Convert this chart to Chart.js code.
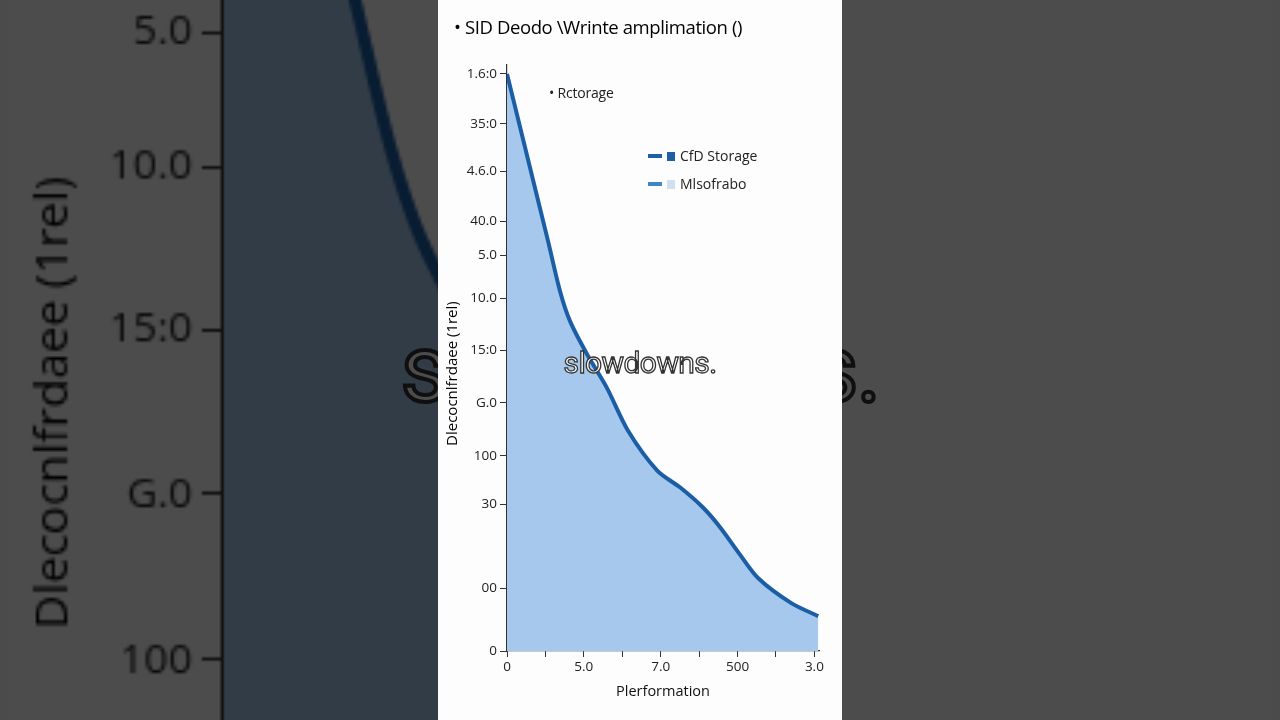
<!DOCTYPE html>
<html>
<head>
<meta charset="utf-8">
<script src="https://cdn.jsdelivr.net/npm/chart.js@4.4.1/dist/chart.umd.min.js"></script>
<style>
    html, body {
        margin: 0;
        padding: 0;
        width: 1280px;
        height: 720px;
        overflow: hidden;
        background: #4b4b4b;
        font-family: "Open Sans", sans-serif;
    }
    .frame {
        position: absolute;
        left: 438px;
        top: 0;
        width: 404px;
        height: 720px;
        background: #fdfdfd;
        overflow: hidden;
    }
    .frame .plot {
        position: absolute;
        left: 0;
        top: 0;
        width: 404px;
        height: 720px;
    }
    #backdrop {
        transform: scale(3.13);
        transform-origin: 50% 50%;
        filter: brightness(0.3);
    }
    .title {
        position: absolute;
        left: 16px;
        top: 14px;
        font-size: 18.5px;
        color: #000;
        white-space: nowrap;
        letter-spacing: -0.4px;
    }
    .note {
        position: absolute;
        left: 111px;
        top: 83px;
        font-size: 14px;
        color: #222;
        white-space: nowrap;
        letter-spacing: -0.2px;
    }
    .key {
        position: absolute;
        left: 210px;
        font-size: 14px;
        color: #222;
        white-space: nowrap;
        height: 18px;
        line-height: 18px;
    }
    .key .seg {
        position: absolute;
        left: 0;
        top: 7px;
        width: 14px;
        height: 4px;
    }
    .key .box {
        position: absolute;
        left: 19px;
        top: 5px;
        width: 8px;
        height: 9px;
    }
    .key .txt {
        position: absolute;
        left: 32px;
        top: 0;
    }
    .caption {
        position: absolute;
        left: 0;
        width: 404px;
        top: 345px;
        text-align: center;
        font-family: Roboto, sans-serif;
        font-size: 30px;
        line-height: 36px;
        color: #fff;
        -webkit-text-stroke: 1.3px #333;
        letter-spacing: -0.6px;
    }
</style>
</head>
<body>
<div class="frame" id="backdrop"></div>
<div class="frame" id="front"></div>
<script>
    // values
    const curveX = [0, 1.07, 1.38, 1.64, 2.08, 2.60, 3.15, 3.91, 4.51, 5.10, 5.55, 6.04, 6.54, 7.40, 8.10];
    const curveY = [579, 411, 361, 331, 298, 264, 221, 181, 164, 144, 124, 98, 73, 48, 35];

    const xTickValues = [0, 1, 2, 3, 4, 5, 6, 7, 8];
    const xTickLabels = ['0', '', '5.0', '', '7.0', '', '500', '', '3.0'];

    const yTickValues = [0, 63, 147, 196, 249, 302, 354, 397, 431, 481, 529, 579];
    const yTickLabels = ['0', '00', '30', '100', 'G.0', '15:0', '10.0', '5.0', '40.0', '4.6.0', '35:0', '1.6:0'];

    const chartTitle = '\u2022 SID Deodo \\Wrinte amplimation ()';
    const noteText = '\u2022 Rctorage';
    const legendItems = [
        { label: 'CfD Storage', line: '#1f5fa6', box: '#1f5fa6', top: 147 },
        { label: 'Mlsofrabo', line: '#3f86c6', box: '#cfe0f1', top: 175 }
    ];
    const xTitle = 'Plerformation';
    const yTitle = 'Dlecocnlfrdaee (1rel)        ';
    const captionText = 'slowdowns.';

    const lineColor = '#1b5ea6';
    const fillColor = '#a5c8ec';
    const axisColor = '#333';

    function buildFrame(frame) {
        const canvasBox = document.createElement('div');
        canvasBox.className = 'plot';
        const canvas = document.createElement('canvas');
        canvasBox.appendChild(canvas);
        frame.appendChild(canvasBox);

        const title = document.createElement('div');
        title.className = 'title';
        title.textContent = chartTitle;
        frame.appendChild(title);

        const note = document.createElement('div');
        note.className = 'note';
        note.textContent = noteText;
        frame.appendChild(note);

        legendItems.forEach(item => {
            const key = document.createElement('div');
            key.className = 'key';
            key.style.top = item.top + 'px';
            key.innerHTML = '<span class="seg"></span><span class="box"></span><span class="txt"></span>';
            key.querySelector('.seg').style.background = item.line;
            key.querySelector('.box').style.background = item.box;
            key.querySelector('.txt').textContent = item.label;
            frame.appendChild(key);
        });

        const caption = document.createElement('div');
        caption.className = 'caption';
        caption.textContent = captionText;
        frame.appendChild(caption);

        const points = curveX.map((x, i) => ({ x: x, y: curveY[i] }));

        new Chart(canvas, {
            type: 'line',
            data: {
                datasets: [{
                    data: points,
                    borderColor: lineColor,
                    borderWidth: 4,
                    backgroundColor: fillColor,
                    fill: 'origin',
                    pointRadius: 0,
                    tension: 0.3
                }]
            },
            options: {
                responsive: true,
                maintainAspectRatio: false,
                animation: false,
                layout: { padding: { left: 6, right: 23, top: 65, bottom: 19 } },
                plugins: {
                    legend: { display: false },
                    tooltip: { enabled: false }
                },
                scales: {
                    x: {
                        type: 'linear',
                        min: 0,
                        max: 8.12,
                        afterBuildTicks: scale => {
                            scale.ticks = xTickValues.map(v => ({ value: v }));
                        },
                        afterFit: scale => { scale.height = 50; },
                        ticks: {
                            autoSkip: false,
                            maxRotation: 0,
                            padding: 2,
                            color: '#222',
                            font: { family: 'Open Sans', size: 13.5 },
                            callback: (value, index) => xTickLabels[index]
                        },
                        grid: {
                            drawOnChartArea: false,
                            tickLength: 6,
                            tickColor: axisColor
                        },
                        border: { color: axisColor, width: 1.2 },
                        title: {
                            display: true,
                            text: xTitle,
                            color: '#111',
                            font: { family: 'Open Sans', size: 14.5 },
                            padding: { top: 2, bottom: 0 }
                        }
                    },
                    y: {
                        type: 'linear',
                        min: 0,
                        max: 588,
                        afterBuildTicks: scale => {
                            scale.ticks = yTickValues.map(v => ({ value: v }));
                        },
                        afterFit: scale => { scale.width = 63; },
                        ticks: {
                            autoSkip: false,
                            padding: 3,
                            color: '#222',
                            font: { family: 'Open Sans', size: 13.5 },
                            callback: (value, index) => yTickLabels[index]
                        },
                        grid: {
                            drawOnChartArea: false,
                            tickLength: 7,
                            tickColor: axisColor
                        },
                        border: { color: axisColor, width: 1.2 },
                        title: {
                            display: true,
                            text: yTitle,
                            color: '#000',
                            font: { family: 'Open Sans', size: 15 },
                            padding: { top: 0, bottom: 0 }
                        }
                    }
                }
            }
        });
    }

    buildFrame(document.getElementById('backdrop'));
    buildFrame(document.getElementById('front'));
</script>
</body>
</html>
